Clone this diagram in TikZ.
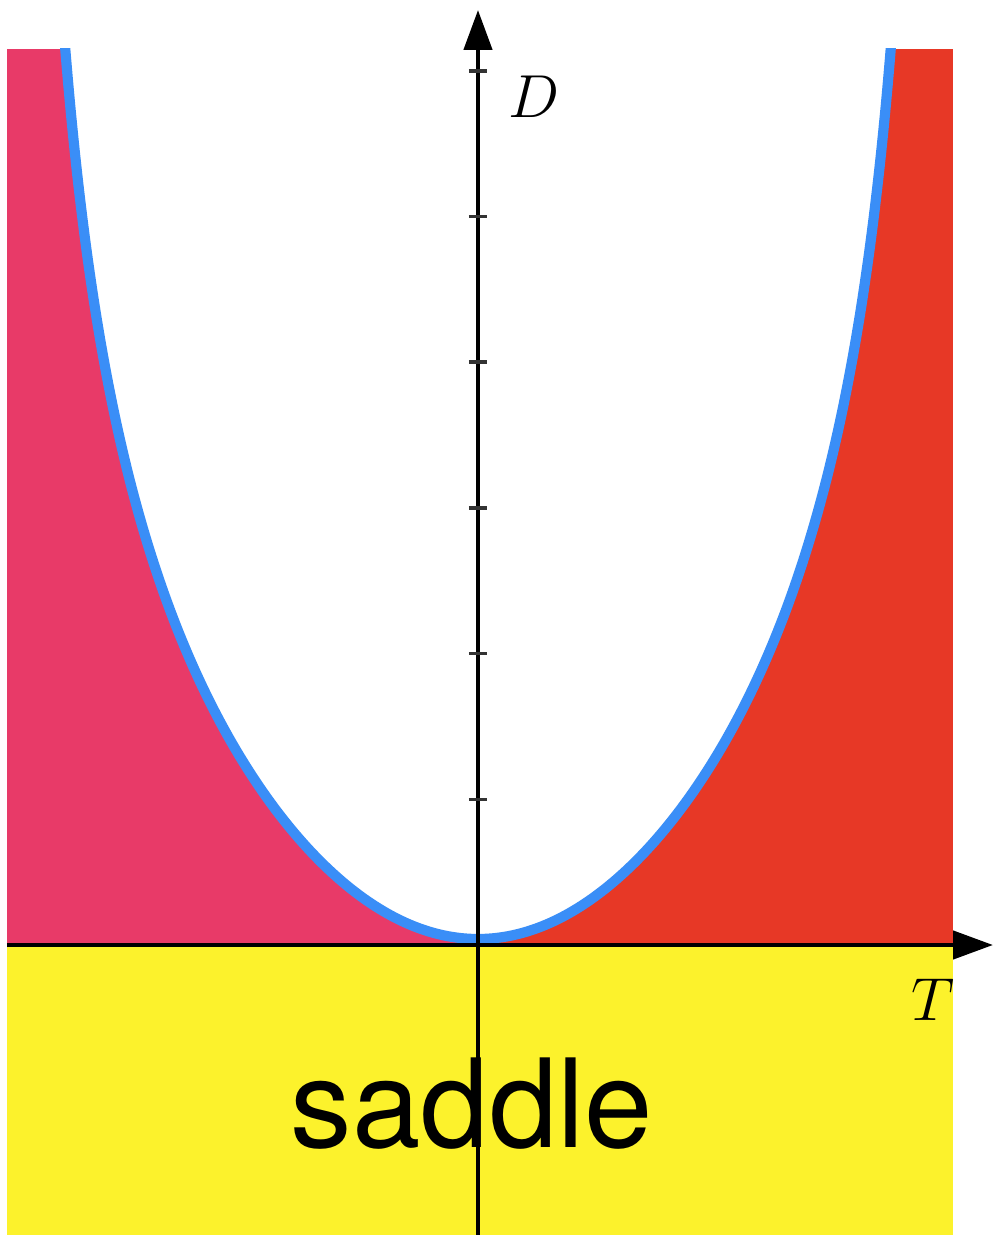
\documentclass[tikz,border=0pt]{standalone}
\usepackage{fontspec}
\newfontfamily\saddlefont{TeX Gyre Heros}
\usetikzlibrary{arrows.meta}
\definecolor{nodepink}{HTML}{E83A68}
\definecolor{nodered}{HTML}{E73826}
\definecolor{saddleyellow}{HTML}{FCF22C}
\definecolor{parabolablue}{HTML}{3A8EF7}
\tikzset{
    >={Triangle[length=4mm, width=2.8mm]}, % Solid triangular arrowhead
    axisline/.style={line width=1.3pt, draw=black},
    tickmark/.style={line width=1pt, draw=black!80},
    boundary/.style={line width=2.9pt, draw=parabolablue},
    axislabel/.style={font=\fontsize{18.5}{22}\selectfont, text=black},
    regionlabel/.style={font=\saddlefont\fontsize{35}{40}\selectfont, text=black}
}

\begin{document}
\begin{tikzpicture}

    % =========================================================================
    % FRAME: fixes the picture size
    % =========================================================================
    \useasboundingbox (-4.78,-2.90) rectangle (5.16,9.45);

    % =========================================================================
    % COLOURED REGIONS
    % =========================================================================
    \fill[nodepink] (-4.71,0) rectangle (0,8.96);
    \fill[nodered] (0,0) rectangle (4.75,8.96);
    % Saddle region below the T axis
    \fill[saddleyellow] (-4.71,-2.90) rectangle (4.75,0);

    % Boundary curve (saved once, used for the fill and the line)
    \path[save path=\parabolapath]
      plot[domain=-5.6:5.6, samples=161, smooth, variable=\s]
        ({\s/(1+(\s*\s/21.16)^2)^0.25}, {0.06+0.31*\s*\s});

    \begin{scope}
        \clip (-4.71,-0.2) rectangle (4.75,8.96);
        \fill[white, use path=\parabolapath];
        \draw[boundary, use path=\parabolapath];
    \end{scope}

    % =========================================================================
    % AXES
    % =========================================================================
    \coordinate (origin) at (0,0);
    \coordinate (tstart) at (-4.71,0);
    \coordinate (tend) at (5.15,0);
    \coordinate (dstart) at (0,-2.90);
    \coordinate (dend) at (0,9.35);

    \draw[axisline, ->] (tstart) -- (tend);
    \draw[axisline, ->] (dstart) -- (dend);

    % Ticks on the D axis
    \foreach \k in {1,...,6}
        \draw[tickmark] (-0.09,1.457*\k) -- (0.09,1.457*\k);

    % =========================================================================
    % LABELS
    % =========================================================================
    \node[axislabel, anchor=base] (dlabel) at (0.56,8.27) {$D$};
    \node[axislabel, anchor=base] (tlabel) at (4.55,-0.75) {$T$};
    \node[regionlabel, anchor=base] (saddlelabel) at (-0.06,-2.02) {saddle};
\end{tikzpicture}
\end{document}
